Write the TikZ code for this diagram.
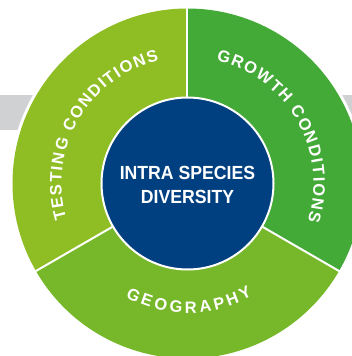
\documentclass[tikz,border=0pt]{standalone}
\usepackage{fontspec}
\setmainfont{Liberation Sans}
\newfontfamily\arcface{Liberation Sans}[Scale=1.65]
\usetikzlibrary{decorations.text}
\definecolor{testgreen}{RGB}{143,189,36}
\definecolor{growgreen}{RGB}{67,169,55}
\definecolor{geogreen}{RGB}{118,184,42}
\definecolor{coreblue}{RGB}{0,64,128}
\definecolor{bandgray}{RGB}{208,209,211}
\tikzset{
  divider/.style={white, line width=2pt},
  arctext/.style={decorate, decoration={text along path, text align=center, text color=white, text={#1}}}
}
\begin{document}
\begin{tikzpicture}[x=1pt,y=1pt]
\useasboundingbox (-187.5,-172.5) rectangle (164.5,183.5);
\fill[bandgray] (-187.5,53.5) rectangle (164.5,88.5);
\fill[white] (0,0) circle[radius=178];
\fill[testgreen] (0,0) -- (90:175) arc[start angle=90,end angle=210,radius=175] -- cycle;
\fill[growgreen] (0,0) -- (-30:175) arc[start angle=-30,end angle=90,radius=175] -- cycle;
\fill[geogreen] (0,0) -- (210:175) arc[start angle=210,end angle=330,radius=175] -- cycle;
\coordinate (o) at (0,0);
\coordinate (d1) at (90:177);
\coordinate (d2) at (210:177);
\coordinate (d3) at (330:177);
\draw[divider] (o) -- (d1);
\draw[divider] (o) -- (d2);
\draw[divider] (o) -- (d3);
\node[circle, fill=coreblue, draw=white, line width=2pt, minimum size=172pt, inner sep=0pt] (core) at (o) {};
\node[text=white, align=center, inner sep=0pt, font=\fontsize{19}{24}\selectfont\bfseries] (label) at (0,-1)
  {\scalebox{0.93}[1]{INTRA SPECIES}\\\scalebox{0.93}[1]{DIVERSITY}};
\path[arctext={|\arcface\bfseries\kern1.5pt|TESTING CONDITIONS}] (210:126) arc[start angle=210,end angle=90,radius=126];
\path[arctext={|\arcface\bfseries\kern1.5pt|GROWTH CONDITIONS}] (90:126) arc[start angle=90,end angle=-30,radius=126];
\path[arctext={|\arcface\bfseries\kern3.2pt|GEOGRAPHY}] (210:129.5) arc[start angle=210,end angle=330,radius=129.5];
\end{tikzpicture}
\end{document}
